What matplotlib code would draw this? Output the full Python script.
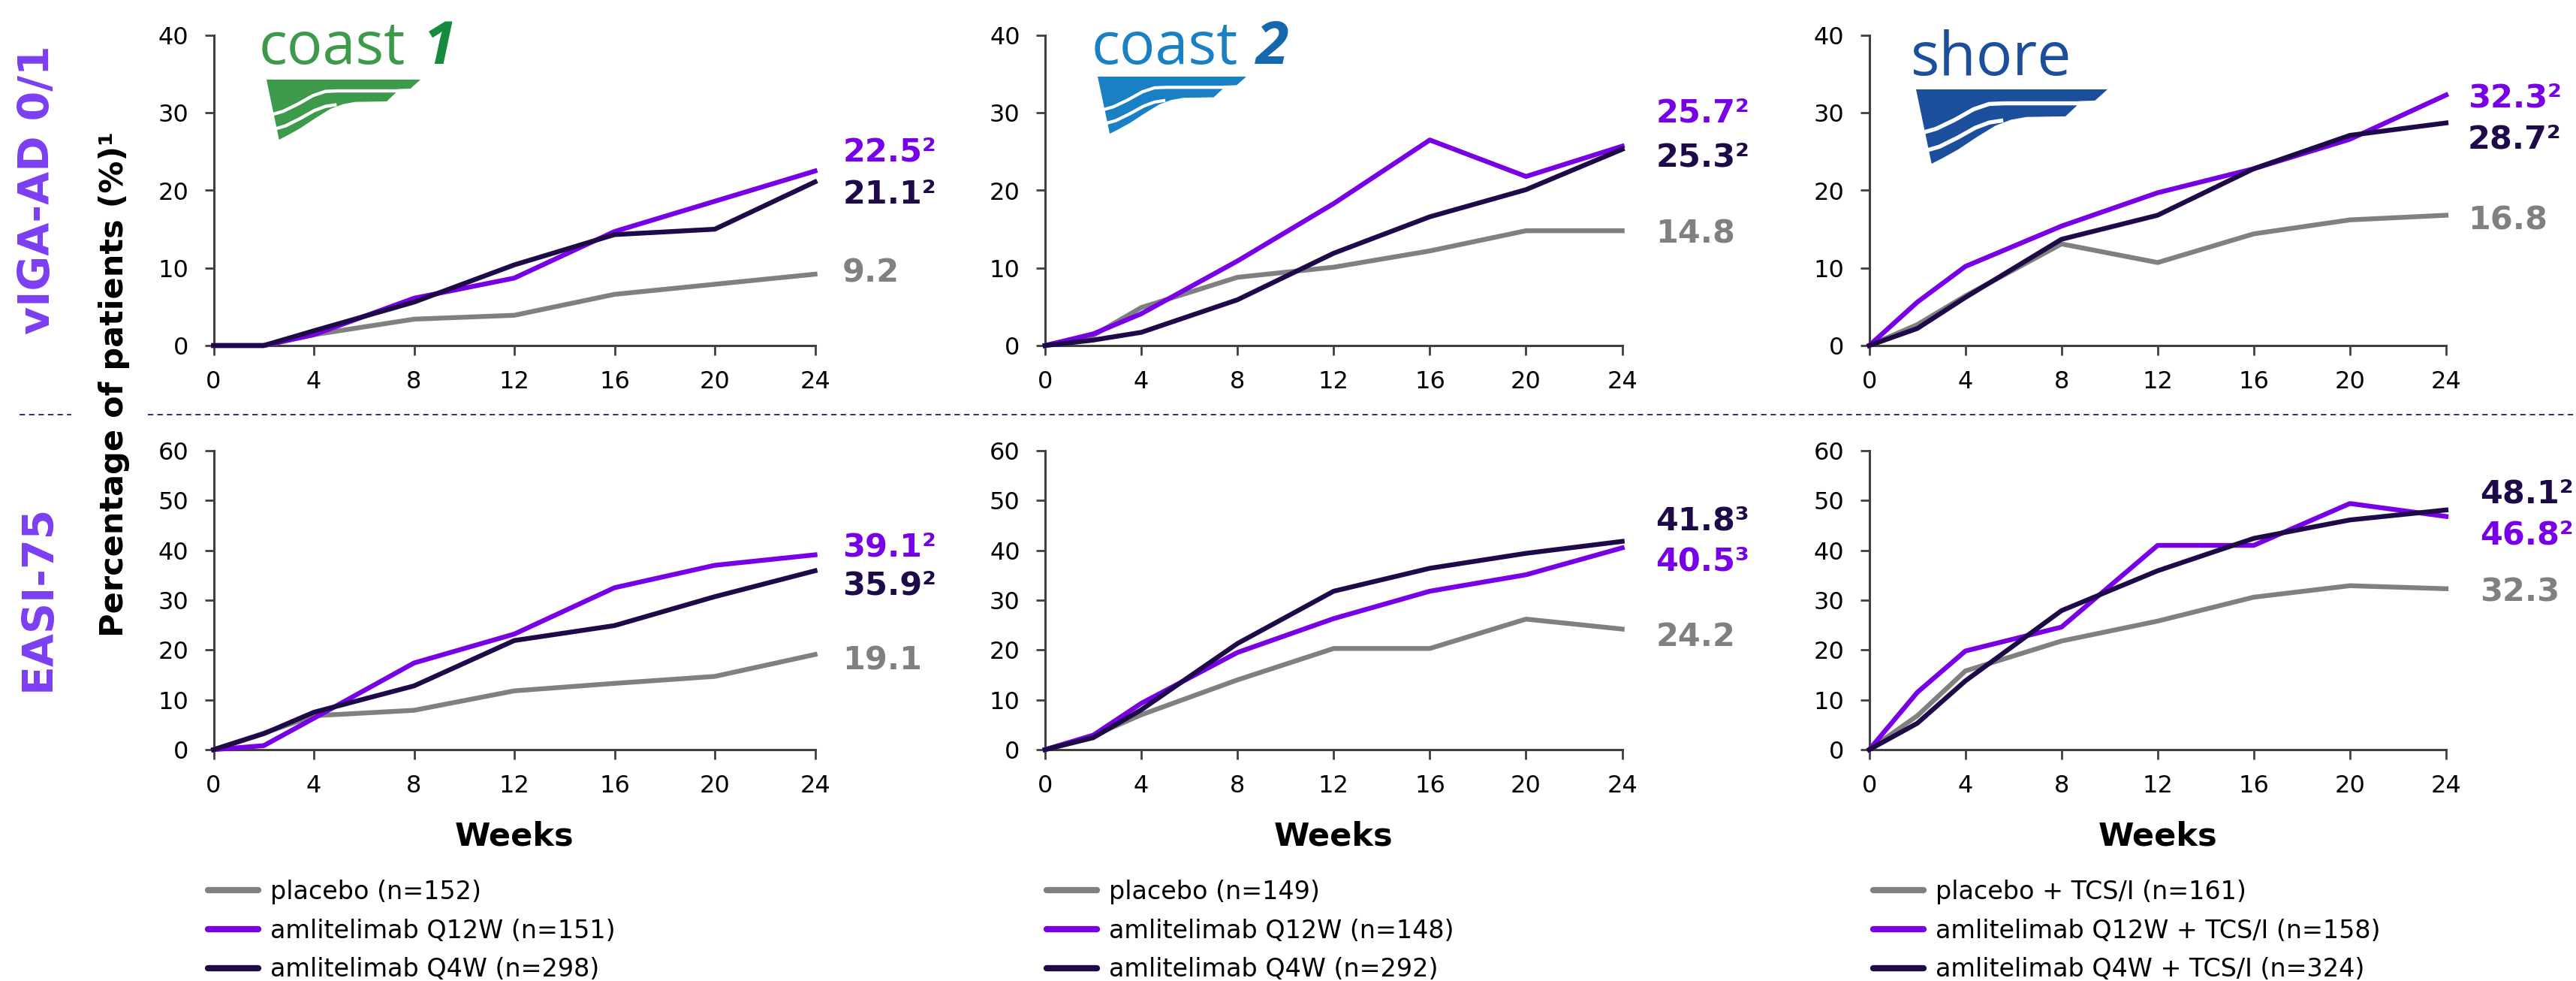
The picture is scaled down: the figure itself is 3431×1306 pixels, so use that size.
import matplotlib
matplotlib.use("Agg")
import matplotlib.pyplot as plt
from matplotlib.lines import Line2D
from matplotlib.patches import Polygon

plt.rcParams['font.family'] = ['DejaVu Sans']

W, H = 3431, 1306

weeks = [0, 2, 4, 8, 12, 16, 20, 24]

# vIGA-AD 0/1 responders (%)
coast1_viga_pbo = [0, 0, 1.4, 3.4, 3.9, 6.6, 7.9, 9.2]
coast1_viga_q12w = [0, 0, 1.4, 6.1, 8.7, 14.7, 18.6, 22.5]
coast1_viga_q4w = [0, 0, 1.9, 5.6, 10.4, 14.3, 15.0, 21.1]
coast2_viga_pbo = [0, 1.3, 4.9, 8.8, 10.1, 12.2, 14.8, 14.8]
coast2_viga_q12w = [0, 1.5, 4.1, 10.9, 18.3, 26.5, 21.8, 25.7]
coast2_viga_q4w = [0, 0.7, 1.7, 5.9, 11.9, 16.6, 20.1, 25.3]
shore_viga_pbo = [0, 2.7, 6.4, 13.1, 10.7, 14.4, 16.2, 16.8]
shore_viga_q12w = [0, 5.6, 10.2, 15.4, 19.7, 22.8, 26.6, 32.3]
shore_viga_q4w = [0, 2.2, 6.2, 13.7, 16.8, 22.8, 27.1, 28.7]

# EASI-75 responders (%)
coast1_easi_pbo = [0, 3.3, 6.8, 7.9, 11.8, 13.3, 14.7, 19.1]
coast1_easi_q12w = [0, 0.8, 6.3, 17.4, 23.2, 32.5, 37.0, 39.1]
coast1_easi_q4w = [0, 3.2, 7.5, 12.8, 21.9, 24.9, 30.7, 35.9]
coast2_easi_pbo = [0, 2.8, 7.0, 14.0, 20.3, 20.3, 26.2, 24.2]
coast2_easi_q12w = [0, 2.9, 9.3, 19.5, 26.3, 31.8, 35.1, 40.5]
coast2_easi_q4w = [0, 2.4, 8.0, 21.3, 31.8, 36.4, 39.4, 41.8]
shore_easi_pbo = [0, 6.8, 15.8, 21.8, 25.8, 30.6, 32.9, 32.3]
shore_easi_q12w = [0, 11.5, 19.8, 24.6, 41.0, 41.0, 49.4, 46.8]
shore_easi_q4w = [0, 5.3, 13.8, 27.9, 35.9, 42.4, 46.1, 48.1]

# footnote numbers on the end labels (placebo, Q12W, Q4W)
viga_refs = [['', '2', '2'], ['', '2', '2'], ['', '2', '2']]
easi_refs = [['', '2', '2'], ['', '3', '3'], ['', '2', '2']]

legend_labels = [
    ['placebo (n=152)', 'amlitelimab Q12W (n=151)', 'amlitelimab Q4W (n=298)'],
    ['placebo (n=149)', 'amlitelimab Q12W (n=148)', 'amlitelimab Q4W (n=292)'],
    ['placebo + TCS/I (n=161)', 'amlitelimab Q12W + TCS/I (n=158)',
     'amlitelimab Q4W + TCS/I (n=324)'],
]

viga = [[coast1_viga_pbo, coast1_viga_q12w, coast1_viga_q4w],
        [coast2_viga_pbo, coast2_viga_q12w, coast2_viga_q4w],
        [shore_viga_pbo, shore_viga_q12w, shore_viga_q4w]]
easi = [[coast1_easi_pbo, coast1_easi_q12w, coast1_easi_q4w],
        [coast2_easi_pbo, coast2_easi_q12w, coast2_easi_q4w],
        [shore_easi_pbo, shore_easi_q12w, shore_easi_q4w]]

# layout (pixels of the final image)
col_left = [284.5, 1392, 2489.7]
col_right = [1085.5, 2160.6, 3257.9]
top_y = (460, 47)       # y pixel of 0 and 40
bot_y = (998, 600)      # y pixel of 0 and 60

# where the end labels sit (data units), order placebo, Q12W, Q4W
viga_lab_y = [[9.3, 24.9, 19.5], [14.4, 30.0, 24.3], [16.1, 31.9, 26.6]]
easi_lab_y = [[17.8, 40.6, 32.9], [22.6, 37.7, 45.9], [31.6, 43.0, 51.3]]
viga_lab_x = [25.1, 25.4, 24.9]
easi_lab_x = [25.1, 25.4, 25.4]

colors = ['#808080', '#7800e6', '#1e0a48']
violet = '#7b3ff2'
axis_col = '#404040'
sup = {'': '', '2': '\u00b2', '3': '\u00b3'}


def add_panel(fig, col, ypix, ymax, series, refs, lab_y, lab_x, xlabel):
    l, r = col_left[col], col_right[col]
    ax = fig.add_axes([l / W, 1 - ypix[0] / H, (r - l) / W, (ypix[0] - ypix[1]) / H])
    lines = []
    for k in range(3):
        ln, = ax.plot(weeks, series[k], color=colors[k], lw=4.6, clip_on=False,
                      zorder=3 + k, solid_joinstyle='round')
        lines.append(ln)
        ax.text(lab_x, lab_y[k], '%.1f%s' % (series[k][-1], sup[refs[k]]),
                color=colors[k], fontsize=31, fontweight='bold',
                ha='left', va='center', clip_on=False)
    ax.set_xlim(0, 24)
    ax.set_ylim(0, ymax)
    ax.set_xticks(range(0, 25, 4))
    ax.set_yticks(range(0, ymax + 1, 10))
    for s in ['top', 'right']:
        ax.spines[s].set_visible(False)
    for s in ['left', 'bottom']:
        ax.spines[s].set_color(axis_col)
        ax.spines[s].set_linewidth(2.2)
    ax.tick_params(direction='out', length=9, width=2, color=axis_col,
                   labelsize=23, pad=15)
    if xlabel:
        ax.set_xlabel('Weeks', fontsize=31, fontweight='bold', labelpad=22)
    return lines


# logo drawing: a word plus the wave mark
env = [(75, 258), (690, 258), (650, 294), (598, 296), (590, 312), (555, 345),
       (430, 347), (380, 356), (330, 375), (270, 412), (210, 452), (160, 480),
       (125, 498)]
stripe_a = [(88, 400), (140, 385), (200, 356), (260, 322), (310, 305),
            (360, 303), (700, 303)]
stripe_b = [(98, 458), (150, 443), (210, 413), (265, 382), (310, 365), (355, 358)]


def add_logo(fig, renderer, word, num, color, num_color, text_x, base_y, size, box):
    t = fig.text(text_x / W, 1 - base_y / H, word, fontsize=size, family='Open Sans',
                 color=color, va='baseline', ha='left')
    if num:
        right = t.get_window_extent(renderer).x1
        fig.text((right + 24) / W, 1 - base_y / H, num, fontsize=size,
                 family='Open Sans', fontweight='bold', style='italic',
                 color=num_color, va='baseline', ha='left')
    x0, y0, x1, y1 = box
    lax = fig.add_axes([x0 / W, 1 - y1 / H, (x1 - x0) / W, (y1 - y0) / H])
    lax.set_xlim(75, 690)
    lax.set_ylim(498, 258)
    lax.axis('off')
    lax.add_patch(Polygon(env, closed=True, color=color, lw=0))
    lw = 13 / 615 * (x1 - x0) * 0.72
    for st in (stripe_a, stripe_b):
        lax.plot([p[0] for p in st], [p[1] for p in st], color='white', lw=lw,
                 solid_capstyle='butt', clip_on=False)


fig = plt.figure(figsize=(W / 100, H / 100), dpi=100)
renderer = fig.canvas.get_renderer()

for c in range(3):
    add_panel(fig, c, top_y, 40, viga[c], viga_refs[c], viga_lab_y[c],
              viga_lab_x[c], False)
    handles = add_panel(fig, c, bot_y, 60, easi[c], easi_refs[c], easi_lab_y[c],
                        easi_lab_x[c], True)
    leg_x = [277, 1394, 2495][c]
    leg = fig.legend(handles, legend_labels[c], loc='upper left',
                     bbox_to_anchor=(leg_x / W, 1 - 1171 / H), frameon=False,
                     fontsize=24, handlelength=2.0, handletextpad=0.5,
                     labelspacing=0.56, borderpad=0, borderaxespad=0)
    for hl in leg.get_lines():
        hl.set_linewidth(6)
        hl.set_solid_capstyle('round')

add_logo(fig, renderer, 'coast', '1', '#3d9a4b', '#168a3e', 345, 85, 57,
         (355, 106, 560, 186))
add_logo(fig, renderer, 'coast', '2', '#1a80c4', '#1668ad', 1454, 85, 57,
         (1462, 102, 1660, 178))
add_logo(fig, renderer, 'shore', '', '#1b4f9c', '#1b4f9c', 2545, 100, 58,
         (2552, 119, 2807, 218))

# row labels and shared y label
fig.text(51 / W, 1 - 253 / H, 'vIGA-AD 0/1', rotation=90, fontsize=41,
         fontweight='bold', color=violet, ha='center', va='center')
fig.text(51 / W, 1 - 796 / H, 'EASI-75', rotation=90, fontsize=41,
         fontweight='bold', color=violet, ha='center', va='center')
fig.text(152 / W, 1 - 512 / H, 'Percentage of patients (%)\u00b9', rotation=90,
         fontsize=31, fontweight='bold', color='black', ha='center', va='center')

# dotted separator between the two rows
sep_y = 1 - 552 / H
for xa, xb in [(26, 95), (197, W)]:
    fig.add_artist(Line2D([xa / W, xb / W], [sep_y, sep_y], color='#2a1a6a',
                          lw=1.3, linestyle=(0, (4, 3))))

fig.savefig('out.png', dpi=100)
